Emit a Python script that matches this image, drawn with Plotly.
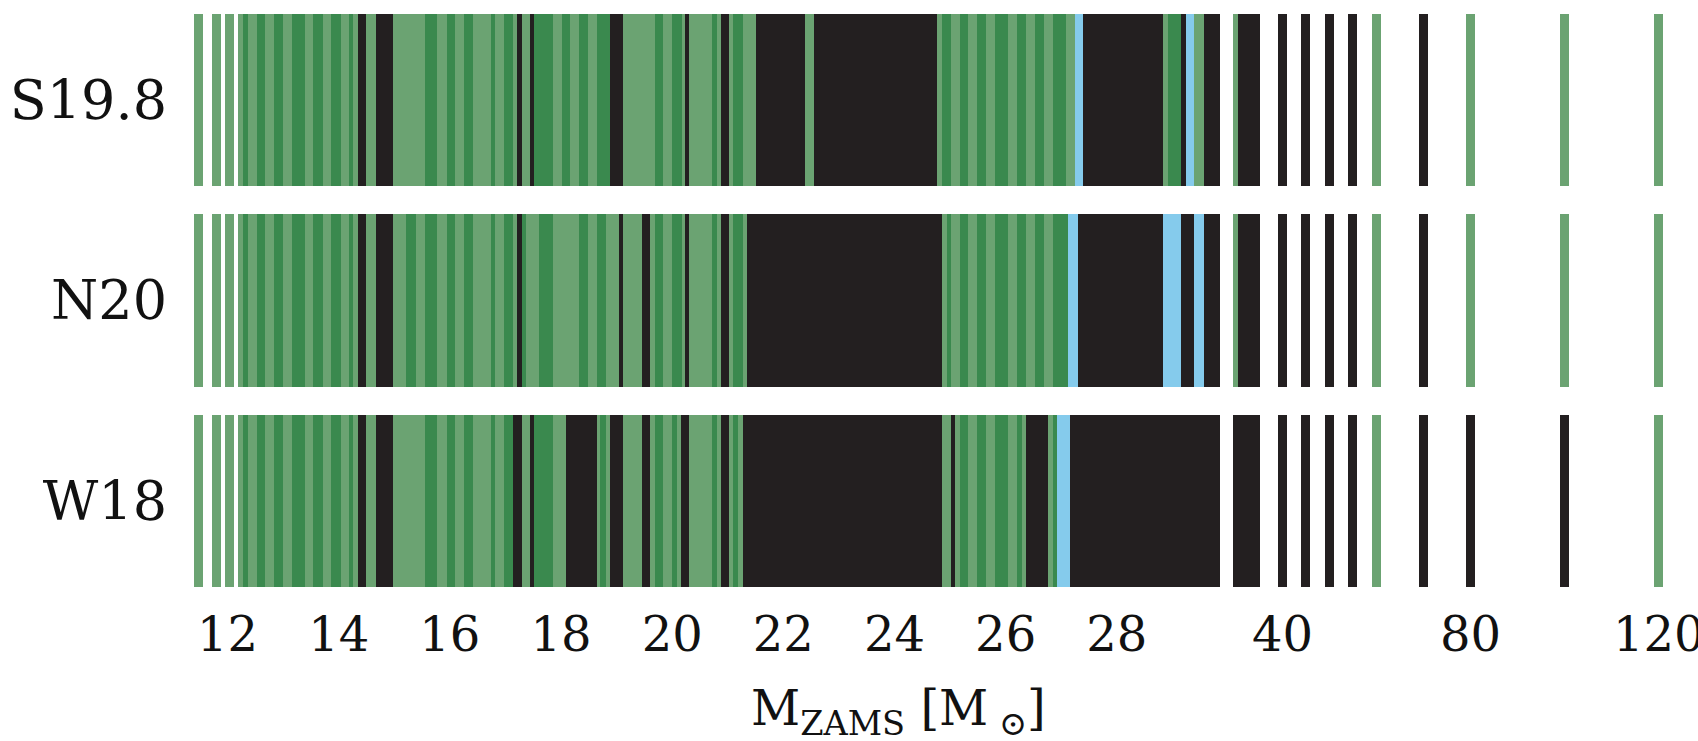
import numpy as np
import plotly.graph_objects as go

ROWS = ["S19.8", "N20", "W18"]

COLORS = {"L": "#6ba372", "D": "#3a894e", "K": "#231f20", "B": "#85cbec"}

# isolated low-mass models (all explode)
LOW_MASSES = [11.48, 11.80, 12.04]
LOW_CODES = {"S19.8": list("LLL"), "N20": list("LLL"), "W18": list("LLL")}

# isolated high-mass models
HIGH_MASSES = [31, 32, 33, 35, 40, 45, 50, 55, 60, 70, 80, 100, 120]
HIGH_CODES = {
    "S19.8": list("LKKKKKKKLKLLL"),
    "N20":   list("LKKKKKKKLKLLL"),
    "W18":   list("KKKKKKKKLKKKL"),
}

# dense grid 12-30 Msun: run boundaries (Msun) and outcome codes
S198_EDGES = [12.19, 12.28, 12.37, 12.53, 12.67, 12.84, 12.99, 13.16, 13.39, 13.54, 13.71, 13.87, 14.04,
              14.19, 14.26, 14.35, 14.50, 14.67, 14.98, 15.55, 15.77, 15.94, 16.10, 16.26, 16.42, 16.74,
              16.81, 16.97, 17.13, 17.21, 17.29, 17.44, 17.52, 17.85, 18.01, 18.17, 18.33, 18.49, 18.64,
              18.88, 19.12, 19.69, 19.84, 19.99, 20.17, 20.23, 20.31, 20.71, 20.80, 20.87, 21.03, 21.10,
              21.27, 21.51, 22.39, 22.55, 24.77, 24.85, 25.01, 25.17, 25.33, 25.49, 25.65, 25.81, 26.05,
              26.21, 26.37, 26.53, 26.69, 26.85, 27.09, 27.25, 27.40, 28.83, 28.93, 29.15, 29.24, 29.39,
              29.56, 29.86]
S198_CODES = list("LDLDLDLDLDLDLDLKLK" "LDLDLDLDLDLKLKDLDLDLDK" "LDLDLKLDLKLDLKLK"
                  "LDLDLDLDLDLDLDLBKLDKBLK")

N20_EDGES = [12.19, 12.28, 12.37, 12.53, 12.67, 12.84, 12.99, 13.16, 13.39, 13.54, 13.71, 13.87, 14.04,
             14.19, 14.26, 14.35, 14.50, 14.67, 14.98, 15.22, 15.39, 15.55, 15.77, 15.94, 16.10, 16.26,
             16.42, 16.74, 16.81, 16.97, 17.13, 17.21, 17.29, 17.37, 17.61, 17.85, 18.33, 18.49, 18.64,
             18.81, 19.05, 19.12, 19.45, 19.60, 19.69, 19.84, 19.99, 20.17, 20.23, 20.31, 20.71, 20.80,
             20.87, 21.03, 21.10, 21.27, 21.35, 24.85, 24.94, 25.01, 25.17, 25.33, 25.49, 25.65, 25.81,
             26.05, 26.21, 26.37, 26.53, 26.69, 26.85, 27.13, 27.31, 28.83, 29.15, 29.39, 29.56, 29.86]
N20_CODES = list("LDLDLDLDLDLDLDLKLK" "LDLDLDLDLDLDLKDLDLDLDLK" "LKLDLDLKLDLKLDLK"
                 "LDLDLDLDLDLDLDBKBKBK")

W18_EDGES = [12.19, 12.28, 12.37, 12.53, 12.67, 12.84, 12.99, 13.16, 13.39, 13.54, 13.71, 13.87, 14.04,
             14.19, 14.26, 14.35, 14.50, 14.67, 14.98, 15.55, 15.77, 15.94, 16.10, 16.26, 16.42, 16.74,
             16.81, 16.97, 17.13, 17.29, 17.44, 17.52, 17.85, 18.09, 18.64, 18.71, 18.81, 18.88, 19.12,
             19.45, 19.60, 19.69, 19.84, 19.99, 20.08, 20.15, 20.31, 20.71, 20.80, 20.87, 21.03, 21.10,
             21.19, 21.27, 24.85, 25.01, 25.09, 25.17, 25.33, 25.49, 25.65, 25.81, 26.05, 26.21, 26.29,
             26.37, 26.77, 26.85, 26.92, 27.16, 29.86]
W18_CODES = list("LDLDLDLDLDLDLDLKLK" "LDLDLDLDLDKLKDLKLDLK" "LKLDLDLKLDLKLDLK" "LKLDLDLDLDLKLDBK")

DENSE = {"S19.8": (S198_EDGES, S198_CODES), "N20": (N20_EDGES, N20_CODES), "W18": (W18_EDGES, W18_CODES)}

TICK_MASSES = [12, 14, 16, 18, 20, 22, 24, 26, 28, 40, 80, 120]

# broken axis scale: linear to 30, compressed above
SCALE_MASS = [11.0, 29.9, 31.0, 35.0, 40.0, 120.0]
SCALE_AXIS = [11.0, 29.9, 30.177, 30.496, 30.98, 37.75]


def T(m):
    return np.interp(np.asarray(m, dtype=float), SCALE_MASS, SCALE_AXIS)


ISO_W = 0.162
BAR_H = 0.86

traces = {c: {"y": [], "base": [], "x": []} for c in ["L", "D", "B", "K"]}
for ri, row in enumerate(ROWS):
    edges, codes = DENSE[row]
    e = T(edges)
    for i, c in enumerate(codes):
        traces[c]["y"].append(ri)
        traces[c]["base"].append(float(e[i]))
        traces[c]["x"].append(float(e[i + 1] - e[i]))
    for m, c in zip(LOW_MASSES + HIGH_MASSES, LOW_CODES[row] + HIGH_CODES[row]):
        traces[c]["y"].append(ri)
        traces[c]["base"].append(float(T(m)) - ISO_W / 2)
        traces[c]["x"].append(ISO_W)

fig = go.Figure()
for c in ["L", "D", "B", "K"]:
    t = traces[c]
    fig.add_trace(go.Bar(orientation="h", y=t["y"], x=t["x"], base=t["base"], width=BAR_H,
                         marker=dict(color=COLORS[c], line=dict(width=0)), showlegend=False,
                         hoverinfo="skip"))

FONT = "DejaVu Serif"
fig.update_layout(
    width=1698, height=741,
    margin=dict(l=178, r=10, t=0, b=140),
    plot_bgcolor="white", paper_bgcolor="white",
    barmode="overlay", bargap=0,
    xaxis=dict(range=[11.109, 38.277], tickvals=[float(v) for v in T(TICK_MASSES)],
               ticktext=[str(v) for v in TICK_MASSES], showgrid=False, zeroline=False,
               showline=False, ticks="", ticklabelstandoff=1, automargin=False,
               ticklabeloverflow="allow",
               tickfont=dict(family=FONT, size=48, color="#111")),
    yaxis=dict(range=[2.5, -0.5], tickvals=[0, 1, 2], ticktext=ROWS, showgrid=False,
               zeroline=False, showline=False, ticks="", ticklabelstandoff=10, automargin=False,
               tickfont=dict(family=FONT, size=54, color="#111")),
    annotations=[dict(text="M<sub>ZAMS</sub> [M<sub> ⊙</sub>]", xref="paper", yref="paper",
                      x=0.477, y=-0.128, xanchor="center", yanchor="top", showarrow=False,
                      font=dict(family=FONT, size=48, color="#111"))],
)

fig.write_html("out.html", config={"displayModeBar": False},
               post_script="document.body.style.margin='0px';")
